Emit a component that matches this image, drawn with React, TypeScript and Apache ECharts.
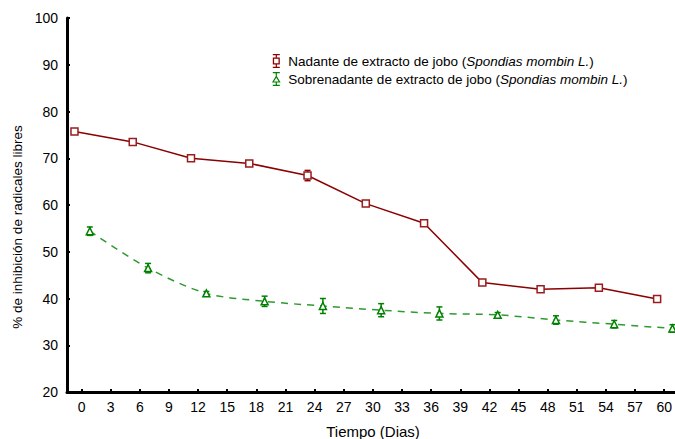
import React, { useEffect, useRef } from "react";
import * as echarts from "echarts";

// Days of measurement
const days = [0, 6, 12, 18, 24, 30, 36, 42, 48, 54, 60];
// Nadante de extracto de jobo
const nadante = [75.7, 73.5, 70.0, 68.9, 66.3, 60.3, 56.1, 43.4, 42.0, 42.3, 39.9];
const nadanteErr = [0.2, 0.2, 0.2, 0.2, 1.1, 0.2, 0.4, 0.2, 0.2, 0.2, 0.2];
// Sobrenadante de extracto de jobo
const sobrenadante = [54.4, 46.5, 41.1, 39.4, 38.4, 37.5, 36.8, 36.5, 35.4, 34.5, 33.6];
const sobrenadanteErr = [0.9, 1.0, 0.4, 1.1, 1.6, 1.4, 1.4, 0.5, 0.9, 0.8, 0.8];
// Tick labels
const xTicks = [0, 3, 6, 9, 12, 15, 18, 21, 24, 27, 30, 33, 36, 39, 42, 45, 48, 51, 54, 57, 60];

const NAME1 = "Nadante de extracto de jobo (Spondias mombin L.)";
const NAME2 = "Sobrenadante de extracto de jobo (Spondias mombin L.)";

const RED = "#8b0000";
const RED_MK = "#9b1c1c";
const GREEN = "#008000";
const GREEN_LINE = "#2f9a2f";
const FONT = "Liberation Sans, Arial, sans-serif";

// horizontal dodge of each series around the day value
const OFFSET1 = -0.73;
const OFFSET2 = 0.85;

const ICON1 =
  "path://M1.5 0H8.5V1.3H1.5Z M4.4 1H5.6V3.8H4.4Z M1.5 3.5H8.5V10.5H1.5Z M2.8 4.8V9.2H7.2V4.8Z M4.4 10.2H5.6V12.8H4.4Z M1.5 12.7H8.5V14H1.5Z";
const ICON2 =
  "path://M1.5 0H8.5V1.3H1.5Z M4.4 1H5.6V3.8H4.4Z M5 3.2L9.3 10.5L0.7 10.5Z M5 5.8L2.6 9.4L7.4 9.4Z M1.5 12.7H8.5V14H1.5Z M4.4 10.2H5.6V12.8H4.4Z";

function errorSeries(name: string, offset: number, vals: number[], errs: number[], color: string) {
  return {
    type: "custom",
    name: name + "_err",
    z: 3,
    data: days.map((d, i) => [d + offset, vals[i] - errs[i], vals[i] + errs[i]]),
    encode: { x: 0, y: [1, 2] },
    renderItem: (params: any, api: any) => {
      const x = api.value(0);
      const top = api.coord([x, api.value(2)]);
      const bot = api.coord([x, api.value(1)]);
      const w = 3;
      const st = { stroke: color, lineWidth: 1.5 };
      return {
        type: "group",
        children: [
          { type: "line", shape: { x1: top[0], y1: top[1], x2: bot[0], y2: bot[1] }, style: st },
          { type: "line", shape: { x1: top[0] - w, y1: top[1], x2: top[0] + w, y2: top[1] }, style: st },
          { type: "line", shape: { x1: bot[0] - w, y1: bot[1], x2: bot[0] + w, y2: bot[1] }, style: st },
        ],
      };
    },
  };
}

export default function App() {
  const ref = useRef<HTMLDivElement>(null);
  useEffect(() => {
    if (!ref.current) return;
    const chart = echarts.init(ref.current, null, { renderer: "svg" });
    chart.setOption({
      animation: false,
      backgroundColor: "#ffffff",
      grid: { left: 67, right: 0, top: 18, bottom: 47, containLabel: false },
      legend: {
        orient: "vertical",
        left: 267,
        top: 49,
        itemWidth: 10,
        itemHeight: 14,
        itemGap: 4,
        selectedMode: false,
        data: [
          { name: NAME1, icon: ICON1, itemStyle: { color: RED, borderWidth: 0 } },
          { name: NAME2, icon: ICON2, itemStyle: { color: GREEN, borderWidth: 0 } },
        ],
        formatter: (name: string) =>
          name === NAME1
            ? "{n|Nadante de extracto de jobo (}{i|Spondias mombin L.}{n|)}"
            : "{n|Sobrenadante de extracto de jobo (}{i|Spondias mombin L.}{n|)}",
        textStyle: {
          fontFamily: FONT,
          fontSize: 13.5,
          color: "#000",
          padding: [0, 0, 0, 2],
          rich: {
            n: { fontFamily: FONT, fontSize: 13.5, color: "#000" },
            i: { fontFamily: FONT, fontSize: 13.5, color: "#000", fontStyle: "italic" },
          },
        },
      },
      xAxis: {
        type: "value",
        min: -1.5,
        max: 61.1,
        splitLine: { show: false },
        axisLine: { onZero: false, lineStyle: { color: "#000", width: 3 } },
        axisTick: { show: true, inside: true, length: 3, customValues: xTicks, lineStyle: { color: "#000", width: 2 } },
        axisLabel: { customValues: xTicks, fontFamily: FONT, fontSize: 14, color: "#000", margin: 8 },
      },
      yAxis: {
        type: "value",
        min: 20,
        max: 100,
        interval: 10,
        splitLine: { show: false },
        axisLine: { show: true, onZero: false, lineStyle: { color: "#000", width: 3 } },
        axisTick: { show: true, inside: true, length: 3, lineStyle: { color: "#000", width: 2 } },
        axisLabel: { fontFamily: FONT, fontSize: 14, color: "#000", margin: 9 },
      },
      graphic: [
        {
          type: "text",
          x: 17,
          y: 227,
          rotation: Math.PI / 2,
          style: {
            text: "% de inhibición de radicales libres",
            font: "13.5px Liberation Sans, Arial, sans-serif",
            fill: "#000",
            align: "center",
            verticalAlign: "middle",
          },
        },
        {
          type: "text",
          x: 373,
          y: 431,
          style: {
            text: "Tiempo (Dias)",
            font: "15px Liberation Sans, Arial, sans-serif",
            fill: "#000",
            align: "center",
            verticalAlign: "middle",
          },
        },
      ],
      series: [
        errorSeries(NAME1, OFFSET1, nadante, nadanteErr, RED),
        errorSeries(NAME2, OFFSET2, sobrenadante, sobrenadanteErr, GREEN),
        {
          type: "line",
          name: NAME1,
          z: 4,
          data: days.map((d, i) => [d + OFFSET1, nadante[i]]),
          symbol: "rect",
          symbolSize: 7,
          lineStyle: { color: RED, width: 1.5 },
          itemStyle: { color: "#fff", borderColor: RED_MK, borderWidth: 1.5 },
        },
        {
          type: "line",
          name: NAME2,
          z: 4,
          smooth: 0.3,
          data: days.map((d, i) => [d + OFFSET2, sobrenadante[i]]),
          symbol: "triangle",
          symbolSize: 7,
          lineStyle: { color: GREEN_LINE, width: 1.5, type: [7, 6] },
          itemStyle: { color: "#fff", borderColor: GREEN, borderWidth: 1.5 },
        },
      ],
    });
    return () => chart.dispose();
  }, []);
  return <div ref={ref} style={{ width: 675, height: 439, position: "fixed", left: 0, top: 0 }} />;
}
